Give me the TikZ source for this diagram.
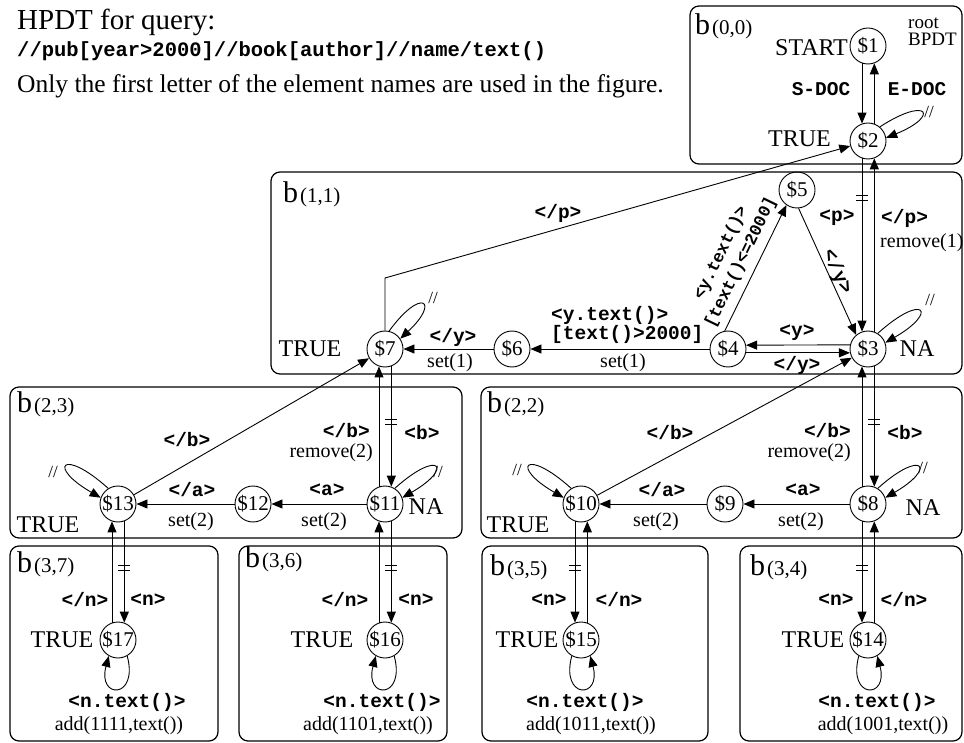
\documentclass[tikz,border=0pt]{standalone}
\usepackage{fontspec}
\setmainfont{Liberation Serif}
\setmonofont{Liberation Mono}
\usetikzlibrary{arrows.meta}
\begin{document}
\begin{tikzpicture}[x=1pt,y=1pt,
  st/.style={circle,draw,line width=0.9pt,minimum size=36pt,inner sep=0pt,font=\fontsize{21}{22}\selectfont},
  bx/.style={draw,line width=1.2pt,rounded corners=9pt},
  ed/.style={line width=0.9pt,-{Triangle[length=11pt,width=9pt]}},
  cd/.style={inner sep=0pt,font=\fontsize{19.5}{18}\selectfont\ttfamily\bfseries},
  tx/.style={inner sep=0pt,font=\fontsize{20}{22}\selectfont},
  lg/.style={inner sep=0pt,font=\fontsize{24}{26}\selectfont},
  sl/.style={inner sep=0pt,font=\fontsize{17}{18}\selectfont},
  bl/.style={inner sep=0pt,anchor=base west},
  eqm/.pic={\draw[line width=0.8pt] (-6,2.5) -- (6,2.5) (-6,-2.5) -- (6,-2.5);}
]
\useasboundingbox (0,0) rectangle (964,-743);
\newcommand{\blab}[1]{\fontsize{30}{30}\selectfont b\kern2pt\fontsize{21}{21}\selectfont(#1)}

% boxes
\draw[bx] (690,-6) rectangle (962,-164);
\draw[bx] (271,-172) rectangle (962,-374);
\draw[bx] (10,-387) rectangle (462,-538);
\draw[bx] (481,-387) rectangle (962,-538);
\draw[bx] (10,-546) rectangle (218,-741);
\draw[bx] (239,-546) rectangle (447,-741);
\draw[bx] (482,-546) rectangle (708,-741);
\draw[bx] (740,-546) rectangle (962,-741);

% title
\node[anchor=base west,inner sep=0pt,font=\fontsize{29}{30}\selectfont] (t1) at (17,-30) {HPDT for query:};
\node[anchor=base west,inner sep=0pt,font=\fontsize{20.5}{22}\selectfont\ttfamily\bfseries] (t2) at (17,-57) {//pub[year>2000]//book[author]//name/text()};
\node[anchor=base west,inner sep=0pt,font=\fontsize{25.5}{27}\selectfont] (t3) at (17,-93) {Only the first letter of the element names are used in the figure.};

% box labels
\node[bl] (b00) at (695,-35) {\blab{0,0}};
\node[bl] (b11) at (283,-203) {\blab{1,1}};
\node[bl] (b23) at (17,-412) {\blab{2,3}};
\node[bl] (b22) at (487,-412) {\blab{2,2}};
\node[bl] (b37) at (17,-572) {\blab{3,7}};
\node[bl] (b36) at (245,-567) {\blab{3,6}};
\node[bl] (b35) at (490,-575) {\blab{3,5}};
\node[bl] (b34) at (750,-575) {\blab{3,4}};

% states
\node[st] (n1) at (868,-46) {\$1};
\node[st] (n2) at (868,-141) {\$2};
\node[st] (n5) at (797,-190) {\$5};
\node[st] (n3) at (868,-349) {\$3};
\node[st] (n4) at (728,-349) {\$4};
\node[st] (n6) at (512,-349) {\$6};
\node[st] (n7) at (385,-349) {\$7};
\node[st] (n13) at (118,-504) {\$13};
\node[st] (n12) at (253,-504) {\$12};
\node[st] (n11) at (385,-504) {\$11};
\node[st] (n10) at (581,-504) {\$10};
\node[st] (n9) at (725,-504) {\$9};
\node[st] (n8) at (868,-504) {\$8};
\node[st] (n17) at (118,-640) {\$17};
\node[st] (n16) at (385,-640) {\$16};
\node[st] (n15) at (581,-640) {\$15};
\node[st] (n14) at (868,-640) {\$14};

% b(0,0)
\draw[ed] (n1.-109.5) -- (n2.109.5);
\draw[ed] (n2.70.5) -- (n1.-70.5);
\draw[ed] (n2.50) .. controls +(33:58) and +(22:58) .. (n2.10);
\node[lg,anchor=east] (lstart) at (848,-48) {START};
\node[lg,anchor=east] (ltrue0) at (831,-139) {TRUE};
\node[inner sep=0pt,anchor=base west,font=\fontsize{19}{19}\selectfont] (lroot) at (908,-29) {root};
\node[inner sep=0pt,anchor=base west,font=\fontsize{19}{19}\selectfont] (lbpdt) at (908,-46) {BPDT};
\node[cd] (lsdoc) at (821,-89) {S-DOC};
\node[cd] (ledoc) at (917,-89) {E-DOC};
\node[sl] (lsl0) at (929,-112) {//};

% b(0,0) <-> b(1,1)
\draw[ed] (n2.-109.5) -- (n3.109.5);
\draw[ed] (n3.70.5) -- (n2.-70.5);
\pic at (n2.-109.5 |- 0,-198) {eqm};
\coordinate (pc) at (385,-278);
\draw[ed] (n7.north) -- (pc) -- (n2);
\node[cd] (lp1) at (558,-213) {</p>};
\node[cd] (lp2) at (837,-218) {<p>};
\node[cd,anchor=west] (lp3) at (881,-218) {</p>};
\node[tx,anchor=west] (lrm1) at (880,-243) {remove(1)};

% b(1,1)
\draw[ed] (n4.100) -- (n5.235);
\draw[ed] (n5.-85) -- (n3.130);
\draw[ed] (n3.167.2) -- (n4.12.8);
\draw[ed] (n4.-12.8) -- (n3.192.8);
\draw[ed] (n4) -- (n6);
\draw[ed] (n6) -- (n7);
\draw[ed] (n7.77) .. controls +(54:55) and +(43:55) .. (n7.34);
\draw[ed] (n3.58) .. controls +(42:62) and +(30:62) .. (n3.20);
\node[inner sep=0pt,font=\fontsize{17}{22}\selectfont\ttfamily\bfseries,rotate=64,align=center] (lyt5) at (731,-258) {<y.text()>\\{}[text()<=2000]};
\node[cd,rotate=-65] (ly53) at (837,-272) {</y>};
\node[cd] (ly34) at (797,-333) {<y>};
\node[cd] (ly43) at (797,-365) {</y>};
\node[lg] (lna3) at (917,-349) {NA};
\node[sl] (lsl3) at (930,-300) {//};
\node[cd,align=left,anchor=south west] (lyt6) at (551,-344) {<y.text()>\\{}[text()>2000]};
\node[tx] (ls61) at (623,-363) {set(1)};
\node[cd] (ly67) at (453,-337) {</y>};
\node[tx] (ls71) at (450,-363) {set(1)};
\node[lg] (ltrue1) at (310,-349) {TRUE};
\node[sl] (lsl7) at (433,-298) {//};

% b(1,1) <-> row 2
\draw[ed] (n3.-70.5) -- (n8.70.5);
\draw[ed] (n8.109.5) -- (n3.-109.5);
\pic at (n3.-70.5 |- 0,-422) {eqm};
\draw[ed] (n10) -- (n3);
\draw[ed] (n7.-70.5) -- (n11.70.5);
\draw[ed] (n11.109.5) -- (n7.-109.5);
\pic at (n7.-70.5 |- 0,-422) {eqm};
\draw[ed] (n13) -- (n7);

% b(2,3)
\draw[ed] (n11) -- (n12);
\draw[ed] (n12) -- (n13);
\draw[ed] (n11.58) .. controls +(42:60) and +(30:60) .. (n11.20);
\draw[ed] (n13.122) .. controls +(138:62) and +(150:62) .. (n13.160);
\node[cd] (lb13) at (187,-440) {</b>};
\node[cd,anchor=east] (lb11) at (370,-431) {</b>};
\node[tx,anchor=east] (lrm11) at (373,-453) {remove(2)};
\node[cd] (lb7) at (422,-433) {<b>};
\node[sl] (lsl13) at (53,-472) {//};
\node[sl] (lsl11) at (438,-472) {//};
\node[cd] (la12) at (192,-490) {</a>};
\node[tx] (ls12) at (191,-522) {set(2)};
\node[cd] (la11) at (327,-490) {<a>};
\node[tx] (ls11) at (324,-522) {set(2)};
\node[lg] (lna11) at (426,-507) {NA};
\node[lg] (ltrue2) at (48,-525) {TRUE};

% b(2,2)
\draw[ed] (n8) -- (n9);
\draw[ed] (n9) -- (n10);
\draw[ed] (n8.58) .. controls +(42:60) and +(30:60) .. (n8.20);
\draw[ed] (n10.122) .. controls +(138:62) and +(150:62) .. (n10.160);
\node[cd] (lb10) at (670,-433) {</b>};
\node[cd,anchor=east] (lb8) at (851,-431) {</b>};
\node[tx,anchor=east] (lrm8) at (851,-453) {remove(2)};
\node[cd] (lb3) at (905,-433) {<b>};
\node[sl] (lsl10) at (517,-470) {//};
\node[sl] (lsl8) at (923,-468) {//};
\node[cd] (la9) at (662,-490) {</a>};
\node[tx] (ls9) at (656,-522) {set(2)};
\node[cd] (la8) at (803,-490) {<a>};
\node[tx] (ls8) at (801,-522) {set(2)};
\node[lg] (lna8) at (923,-508) {NA};
\node[lg] (ltrue3) at (518,-525) {TRUE};

% row 2 <-> row 3
\draw[ed] (n13.-70.5) -- (n17.70.5);
\draw[ed] (n17.109.5) -- (n13.-109.5);
\pic at (n13.-70.5 |- 0,-568) {eqm};
\draw[ed] (n11.-70.5) -- (n16.70.5);
\draw[ed] (n16.109.5) -- (n11.-109.5);
\pic at (n11.-70.5 |- 0,-568) {eqm};
\draw[ed] (n10.-109.5) -- (n15.109.5);
\draw[ed] (n15.70.5) -- (n10.-70.5);
\pic at (n10.-109.5 |- 0,-568) {eqm};
\draw[ed] (n8.-109.5) -- (n14.109.5);
\draw[ed] (n14.70.5) -- (n8.-70.5);
\pic at (n8.-109.5 |- 0,-568) {eqm};

% row 3 loops
\draw[ed] (n17.-60) .. controls +(-75:45) and +(-105:45) .. (n17.-120);
\draw[ed] (n16.-60) .. controls +(-75:45) and +(-105:45) .. (n16.-120);
\draw[ed] (n15.-120) .. controls +(-105:45) and +(-75:45) .. (n15.-60);
\draw[ed] (n14.-120) .. controls +(-105:45) and +(-75:45) .. (n14.-60);

% row 3 labels
\node[cd] (ln37a) at (85,-600) {</n>};
\node[cd] (ln37b) at (148,-600) {<n>};
\node[lg] (lt37) at (62,-640) {TRUE};
\node[cd] (lnt37) at (127,-702) {<n.text()>};
\node[tx] (lad37) at (119,-726) {add(1111,text())};

\node[cd] (ln36a) at (345,-600) {</n>};
\node[cd] (ln36b) at (416,-600) {<n>};
\node[lg] (lt36) at (322,-640) {TRUE};
\node[cd] (lnt36) at (382,-702) {<n.text()>};
\node[tx] (lad36) at (368,-726) {add(1101,text())};

\node[cd] (ln35a) at (549,-600) {<n>};
\node[cd] (ln35b) at (619,-600) {</n>};
\node[lg] (lt35) at (527,-640) {TRUE};
\node[cd] (lnt35) at (585,-702) {<n.text()>};
\node[tx] (lad35) at (591,-726) {add(1011,text())};

\node[cd] (ln34a) at (836,-600) {<n>};
\node[cd] (ln34b) at (904,-600) {</n>};
\node[lg] (lt34) at (813,-640) {TRUE};
\node[cd] (lnt34) at (877,-702) {<n.text()>};
\node[tx] (lad34) at (883,-726) {add(1001,text())};
\end{tikzpicture}
\end{document}
